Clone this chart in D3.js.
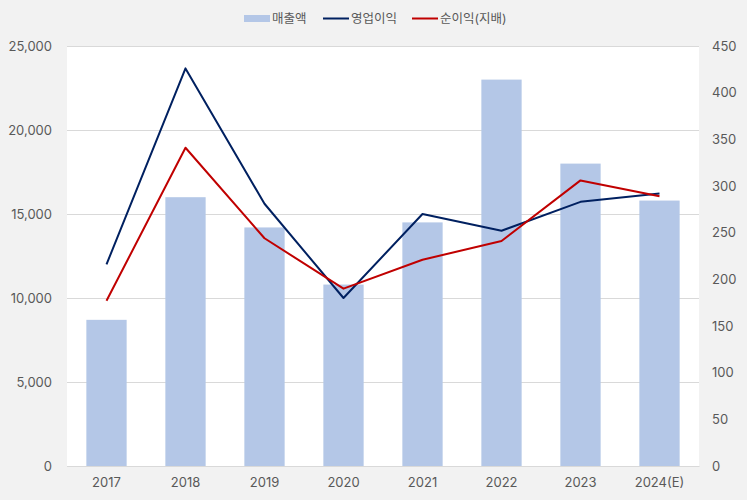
<!DOCTYPE html>
<html><head><meta charset="utf-8">
<script src="https://cdn.jsdelivr.net/npm/d3@7"></script>
<style>
body{margin:0;background:#f2f2f2;}
svg{display:block;font-family:Inter,"Noto Sans CJK KR",sans-serif;}
</style></head>
<body><svg id="c" width="747" height="500"></svg>
<script>
const categories = ["2017","2018","2019","2020","2021","2022","2023","2024(E)"];
const revenue = [8700,16000,14200,10800,14500,23000,18000,15800];
const opProfit = [216,426,281,180,270,252,283,292];
const netProfit = [177,341,244,190,221,241,306,289];
const leftTicks = [0,5000,10000,15000,20000,25000];
const rightTicks = [0,50,100,150,200,250,300,350,400,450];
const seriesNames = ["매출액","영업이익","순이익(지배)"];

const svg = d3.select("#c");
const m = {l:67, r:699, t:46, b:466};
const x = d3.scaleBand().domain(categories).range([m.l,m.r]).paddingInner(0.49).paddingOuter(0.245);
const yL = d3.scaleLinear().domain([0,25000]).range([m.b,m.t]);
const yR = d3.scaleLinear().domain([0,450]).range([m.b,m.t]);
const txt = "#595959";

svg.append("rect").attr("x",m.l).attr("y",m.t).attr("width",m.r-m.l).attr("height",m.b-m.t).attr("fill","#fff");

// gridlines
const gl = svg.append("g").attr("transform",`translate(${m.l},0)`)
  .call(d3.axisLeft(yL).tickValues(leftTicks).tickSize(-(m.r-m.l)).tickFormat(""));
gl.select(".domain").remove();
gl.selectAll("line").attr("stroke","#d9d9d9").attr("stroke-width",1);

// bars
svg.append("g").selectAll("rect").data(revenue).join("rect")
  .attr("x",(d,i)=>x(categories[i])).attr("width",x.bandwidth())
  .attr("y",d=>yL(d)).attr("height",d=>m.b-yL(d)).attr("fill","#b4c7e7");

// left axis labels
const la = svg.append("g").attr("transform",`translate(${m.l},0)`)
  .call(d3.axisLeft(yL).tickValues(leftTicks).tickSize(0).tickPadding(15).tickFormat(d3.format(",")));
la.select(".domain").remove();
la.selectAll("text").attr("fill",txt).style("font-size","13px").style("font-family","Inter,'Noto Sans CJK KR',sans-serif");

// right axis labels
const ra = svg.append("g").attr("transform",`translate(${m.r},0)`)
  .call(d3.axisRight(yR).tickValues(rightTicks).tickSize(0).tickPadding(13));
ra.select(".domain").remove();
ra.selectAll("text").attr("fill",txt).style("font-size","13px").style("font-family","Inter,'Noto Sans CJK KR',sans-serif");

// bottom axis
const ba = svg.append("g").attr("transform",`translate(0,${m.b})`)
  .call(d3.axisBottom(x).tickSize(0).tickPadding(12));
ba.select(".domain").attr("stroke","#d9d9d9");
ba.selectAll("text").attr("fill",txt).style("font-size","13px").style("font-family","Inter,'Noto Sans CJK KR',sans-serif");

// lines
const cx = c => x(c)+x.bandwidth()/2;
const line = d3.line().x((d,i)=>cx(categories[i])).y(d=>yR(d));
svg.append("path").datum(opProfit).attr("d",line).attr("fill","none").attr("stroke","#002060").attr("stroke-width",2).attr("stroke-linejoin","round");
svg.append("path").datum(netProfit).attr("d",line).attr("fill","none").attr("stroke","#c00000").attr("stroke-width",2).attr("stroke-linejoin","round");

// legend
const lg = svg.append("g");
const items = [
  {name:seriesNames[0], type:"rect", color:"#b4c7e7", x:244},
  {name:seriesNames[1], type:"line", color:"#002060", x:323},
  {name:seriesNames[2], type:"line", color:"#c00000", x:412}
];
items.forEach(it=>{
  if(it.type==="rect") lg.append("rect").attr("x",it.x).attr("y",15).attr("width",26).attr("height",7).attr("fill",it.color);
  else lg.append("line").attr("x1",it.x).attr("x2",it.x+26).attr("y1",18.5).attr("y2",18.5).attr("stroke",it.color).attr("stroke-width",2);
  lg.append("text").attr("x",it.x+28).attr("y",23).text(it.name).attr("fill",txt).style("font-size","12.5px");
});
</script></body></html>
